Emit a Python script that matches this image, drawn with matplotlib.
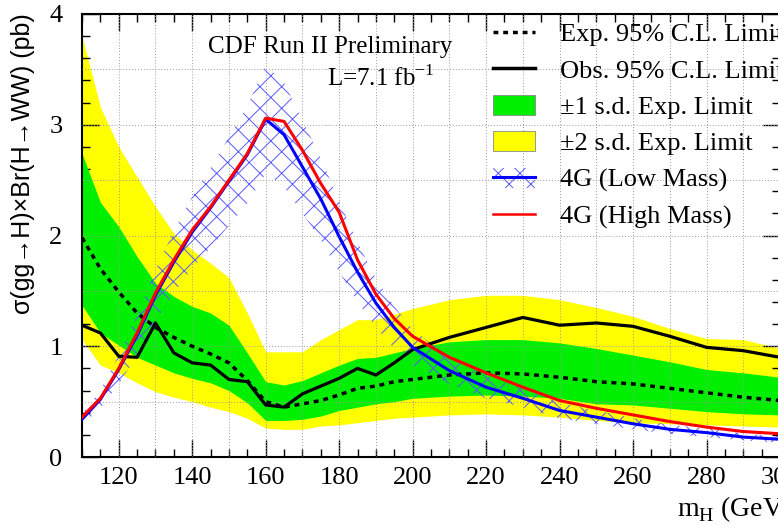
import numpy as np
import matplotlib
matplotlib.use("Agg")
import matplotlib.pyplot as plt
from matplotlib.lines import Line2D
from matplotlib.patches import Patch
from matplotlib.ticker import MultipleLocator

# Higgs mass points (GeV/c^2)
mass = [110, 115, 120, 125, 130, 135, 140, 145, 150, 155, 160, 165, 170, 175,
        180, 185, 190, 195, 200, 210, 220, 230, 240, 250, 260, 270, 280, 290, 300]

# 95% C.L. limits (pb)
exp_limit = [1.98, 1.70, 1.49, 1.30, 1.17, 1.08, 1.00, 0.93, 0.85, 0.69, 0.50, 0.45, 0.48, 0.51,
             0.56, 0.62, 0.64, 0.68, 0.70, 0.74, 0.76, 0.75, 0.72, 0.68, 0.66, 0.62, 0.58, 0.54, 0.51]
obs_limit = [1.19, 1.12, 0.91, 0.90, 1.21, 0.94, 0.85, 0.83, 0.70, 0.68, 0.47, 0.45, 0.57, 0.64,
             0.71, 0.80, 0.74, 0.85, 0.97, 1.08, 1.17, 1.26, 1.19, 1.21, 1.18, 1.09, 0.99, 0.96, 0.90]
one_sd_up = [2.74, 2.30, 2.08, 1.81, 1.57, 1.45, 1.36, 1.30, 1.19, 0.94, 0.68, 0.65, 0.69, 0.76,
             0.83, 0.89, 0.90, 0.94, 0.98, 1.04, 1.06, 1.06, 1.03, 0.98, 0.92, 0.86, 0.79, 0.76, 0.72]
one_sd_dn = [1.37, 1.12, 1.01, 0.90, 0.83, 0.76, 0.71, 0.67, 0.60, 0.49, 0.33, 0.33, 0.34, 0.37,
             0.42, 0.45, 0.48, 0.50, 0.53, 0.55, 0.56, 0.55, 0.53, 0.48, 0.47, 0.44, 0.41, 0.39, 0.38]
two_sd_up = [3.80, 3.16, 2.80, 2.53, 2.26, 2.02, 1.87, 1.75, 1.62, 1.30, 0.95, 0.95, 0.95, 1.06,
             1.15, 1.24, 1.24, 1.29, 1.34, 1.42, 1.46, 1.46, 1.42, 1.35, 1.27, 1.16, 1.07, 1.06, 0.98]
two_sd_dn = [1.06, 0.83, 0.76, 0.67, 0.59, 0.54, 0.50, 0.45, 0.41, 0.35, 0.26, 0.25, 0.25, 0.28,
             0.29, 0.31, 0.33, 0.35, 0.36, 0.38, 0.39, 0.38, 0.36, 0.33, 0.31, 0.30, 0.29, 0.28, 0.27]

# 4th generation predictions (pb)
g4_low = [0.34, 0.52, 0.79, 1.10, 1.46, 1.76, 2.03, 2.25, 2.49, 2.73, 3.05, 2.91, 2.62, 2.33,
          1.99, 1.67, 1.39, 1.17, 0.99, 0.78, 0.63, 0.53, 0.42, 0.36, 0.30, 0.25, 0.22, 0.18, 0.16]
g4_low_dn = [0.29, 0.44, 0.66, 0.92, 1.23, 1.48, 1.71, 1.89, 2.09, 2.29, 2.56, 2.44, 2.20, 1.96,
             1.67, 1.40, 1.17, 0.98, 0.83, 0.66, 0.53, 0.45, 0.35, 0.30, 0.25, 0.21, 0.18, 0.15, 0.13]
g4_low_up = [0.39, 0.60, 0.92, 1.28, 1.69, 2.04, 2.35, 2.61, 2.89, 3.17, 3.54, 3.38, 3.04, 2.70,
             2.31, 1.94, 1.61, 1.36, 1.15, 0.90, 0.73, 0.61, 0.49, 0.42, 0.35, 0.29, 0.26, 0.21, 0.19]
g4_high = [0.36, 0.53, 0.80, 1.12, 1.48, 1.78, 2.05, 2.26, 2.50, 2.74, 3.06, 3.03, 2.77, 2.47,
           2.21, 1.78, 1.47, 1.25, 1.09, 0.90, 0.76, 0.63, 0.51, 0.44, 0.38, 0.32, 0.27, 0.23, 0.21]

# the Agg hatch tile is one inch, so a low dpi gives the ~13 px ROOT hatch cell;
# K converts sizes that were tuned for 100 dpi
DPI = 65
K = 100 / DPI
W, H = 778, 527

SERIF = ["Liberation Serif", "DejaVu Serif"]
SANS = ["Liberation Sans", "DejaVu Sans"]
plt.rcParams["font.family"] = SERIF
plt.rcParams["mathtext.fontset"] = "custom"
plt.rcParams["mathtext.rm"] = "Liberation Serif"
plt.rcParams["hatch.linewidth"] = 1.1

GREEN = "#00ee00"
YELLOW = "#ffff00"
HATCH = "#5c5cff"
DOTS = (0, (1.4, 1.4))

fig = plt.figure(figsize=(W / DPI, H / DPI), dpi=DPI)
ax = fig.add_axes([82 / W, 70 / H, 698 / W, 443 / H])

ax.fill_between(mass, two_sd_dn, two_sd_up, color=YELLOW, lw=0, zorder=1)
ax.fill_between(mass, one_sd_dn, one_sd_up, color=GREEN, lw=0, zorder=2)

# grid drawn on top of bands, like the ROOT canvas
for gx in np.arange(120, 300, 10):
    ax.axvline(gx, color="#999999", lw=0.7 * K, ls=(0, (1, 2)), zorder=3)
for gy in np.arange(0.5, 4.0, 0.5):
    ax.axhline(gy, color="#999999", lw=0.7 * K, ls=(0, (1, 2)), zorder=3)

ax.fill_between(mass, g4_low_dn, g4_low_up, facecolor="none", edgecolor=HATCH,
                hatch="x", lw=0, zorder=4)
ax.plot(mass, exp_limit, color="black", lw=2.5 * K, ls=DOTS, zorder=5)
ax.plot(mass, obs_limit, color="black", lw=2.3 * K, zorder=6)
ax.plot(mass, g4_low, color="#0000ff", lw=2.2 * K, zorder=7)
ax.plot(mass, g4_high, color="#ff0000", lw=2.2 * K, zorder=8)

ax.set_xlim(110, 300)
ax.set_ylim(0, 4)
ax.xaxis.set_major_locator(MultipleLocator(20))
ax.xaxis.set_minor_locator(MultipleLocator(5))
ax.yaxis.set_major_locator(MultipleLocator(1))
ax.yaxis.set_minor_locator(MultipleLocator(0.2))
ax.tick_params(which="both", direction="in", top=True, right=True, width=1 * K)
ax.tick_params(which="major", length=12 * K)
ax.tick_params(which="minor", length=6 * K)
ax.tick_params(axis="x", labelsize=19 * K, pad=7 * K)
ax.tick_params(axis="y", labelsize=19 * K, pad=14 * K)
for s in ax.spines.values():
    s.set_linewidth(1.5 * K)

fig.text(23 / W, 1 - 13 / H, "σ(gg→H)×Br(H→WW) (pb)", rotation=90,
         ha="center", va="top", fontsize=18 * K, family=SANS)
fig.text(677 / W, 1 - 517 / H, r"m$_{\mathregular{H}}$ (GeV/c$^{\mathregular{2}}$)",
         ha="left", va="baseline", fontsize=20 * K)
fig.text(330 / W, 1 - 47 / H, "CDF Run II Preliminary", ha="center", va="center",
         fontsize=18 * K)
fig.text(327 / W, 1 - 78 / H, r"L=7.1 fb$^{\mathregular{-1}}$", ha="left", va="center",
         fontsize=18 * K)

handles = [
    Line2D([], [], color="black", lw=2.5 * K, ls=DOTS),
    Line2D([], [], color="black", lw=2.5 * K),
    Patch(facecolor=GREEN, edgecolor="#888888", lw=0.6 * K),
    Patch(facecolor=YELLOW, edgecolor="#888888", lw=0.6 * K),
    (Patch(facecolor="none", edgecolor=HATCH, hatch="x", lw=0),
     Line2D([], [], color="#0000ff", lw=2.2 * K)),
    Line2D([], [], color="#ff0000", lw=1.8 * K),
]
labels = ["Exp. 95% C.L. Limit", "Obs. 95% C.L. Limit", "±1 s.d. Exp. Limit",
          "±2 s.d. Exp. Limit", "4G (Low Mass)", "4G (High Mass)"]
ax.legend(handles, labels, loc="upper left", bbox_to_anchor=(493 / W, 1 - 22 / H),
          bbox_transform=fig.transFigure, frameon=False, fontsize=19 * K, borderpad=0,
          borderaxespad=0, handlelength=1.6, handleheight=0.8, handletextpad=0.95,
          labelspacing=0.46)

fig.savefig("out.png", dpi=DPI)
